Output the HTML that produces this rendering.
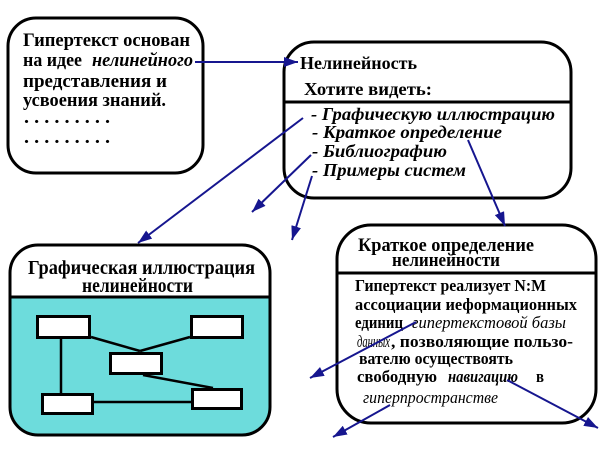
<!DOCTYPE html>
<html><head><meta charset="utf-8"><style>
html,body{margin:0;padding:0;background:#fff;}
svg{display:block;}
svg text{font-family:"Liberation Serif","Times New Roman",Times,serif !important;fill:#000;}
.b{font-weight:bold;}
.bi{font-weight:bold;font-style:italic;}
.i{font-style:italic;}
</style></head><body>
<svg width="615" height="455" viewBox="0 0 615 455" xmlns="http://www.w3.org/2000/svg" font-family="Liberation Serif, Times New Roman, serif">
<defs>
<marker id="ah" viewBox="0 0 14 10" refX="14" refY="5" markerWidth="14" markerHeight="10" markerUnits="userSpaceOnUse" orient="auto">
<path d="M0,0 L14,5 L0,10 z" fill="#16168f"/>
</marker>
<clipPath id="c3"><rect x="10" y="245" width="260" height="190" rx="28" ry="28"/></clipPath>
</defs>

<!-- Box 1 -->
<rect x="8" y="18" width="195" height="155" rx="28" ry="28" fill="#fff" stroke="#000" stroke-width="3"/>
<g font-family="Liberation Serif, serif">
<text class="b" x="23" y="46" font-size="19" textLength="167" lengthAdjust="spacingAndGlyphs">Гипертекст основан</text>
<text class="b" x="23" y="66" font-size="19" textLength="59" lengthAdjust="spacingAndGlyphs">на идее</text>
<text class="bi" x="92" y="66" font-size="19" textLength="101" lengthAdjust="spacingAndGlyphs">нелинейного</text>
<text class="b" x="23" y="87" font-size="19" textLength="144" lengthAdjust="spacingAndGlyphs">представления  и</text>
<text class="b" x="23" y="106" font-size="19" textLength="143" lengthAdjust="spacingAndGlyphs">усвоения знаний.</text>
<text class="b" x="24" y="123" font-size="19" textLength="86" lengthAdjust="spacingAndGlyphs">. . . . . . . . .</text>
<text class="b" x="24" y="143" font-size="19" textLength="86" lengthAdjust="spacingAndGlyphs">. . . . . . . . .</text>
</g>

<!-- Box 2 -->
<rect x="284" y="42" width="287" height="156" rx="30" ry="30" fill="#fff" stroke="#000" stroke-width="3"/>
<line x1="284" y1="102" x2="571" y2="102" stroke="#000" stroke-width="3"/>
<g font-family="Liberation Serif, serif">
<text class="b" x="300" y="69" font-size="18" textLength="117" lengthAdjust="spacingAndGlyphs">Нелинейность</text>
<text class="b" x="304" y="95" font-size="18" textLength="128" lengthAdjust="spacingAndGlyphs">Хотите видеть:</text>
<text class="bi" x="311" y="120" font-size="18" textLength="244" lengthAdjust="spacingAndGlyphs">- Графическую иллюстрацию</text>
<text class="bi" x="312" y="138" font-size="18" textLength="190" lengthAdjust="spacingAndGlyphs">- Краткое определение</text>
<text class="bi" x="312" y="157" font-size="18" textLength="135" lengthAdjust="spacingAndGlyphs">- Библиографию</text>
<text class="bi" x="312" y="176" font-size="18" textLength="154" lengthAdjust="spacingAndGlyphs">- Примеры систем</text>
</g>

<!-- Box 3 -->
<rect x="10" y="245" width="260" height="190" rx="28" ry="28" fill="#fff"/>
<rect x="0" y="297" width="280" height="150" fill="#6ddcdc" clip-path="url(#c3)"/>
<rect x="10" y="245" width="260" height="190" rx="28" ry="28" fill="none" stroke="#000" stroke-width="3"/>
<line x1="10" y1="297" x2="270" y2="297" stroke="#000" stroke-width="3"/>
<g font-family="Liberation Serif, serif">
<text class="b" x="28" y="274" font-size="20" textLength="227" lengthAdjust="spacingAndGlyphs">Графическая иллюстрация</text>
<text class="b" x="82" y="292" font-size="20" textLength="111" lengthAdjust="spacingAndGlyphs">нелинейности</text>
</g>
<g stroke="#000" stroke-width="2.5" fill="none">
<line x1="61" y1="338" x2="61" y2="394"/>
<line x1="91" y1="337" x2="140" y2="351"/>
<line x1="190" y1="337" x2="140" y2="351"/>
<line x1="143" y1="375" x2="213" y2="388"/>
<line x1="94" y1="402" x2="192" y2="402"/>
</g>
<g stroke="#000" stroke-width="3" fill="#fff">
<rect x="37.5" y="316.5" width="52" height="21"/>
<rect x="191.5" y="316.5" width="51" height="21"/>
<rect x="110.5" y="353.5" width="51" height="20"/>
<rect x="42.5" y="394.5" width="50" height="19"/>
<rect x="192.5" y="389.5" width="49" height="19"/>
</g>

<!-- Box 4 -->
<rect x="337" y="225" width="259" height="198" rx="34" ry="34" fill="#fff" stroke="#000" stroke-width="3"/>
<line x1="337" y1="273" x2="596" y2="273" stroke="#000" stroke-width="3"/>
<g font-family="Liberation Serif, serif">
<text class="b" x="358" y="251" font-size="19" textLength="176" lengthAdjust="spacingAndGlyphs">Краткое определение</text>
<text class="b" x="392" y="266" font-size="19" textLength="108" lengthAdjust="spacingAndGlyphs">нелинейности</text>
<text class="b" x="355" y="291" font-size="17" textLength="191" lengthAdjust="spacingAndGlyphs">Гипертекст реализует N:M</text>
<text class="b" x="355" y="310" font-size="17" textLength="222" lengthAdjust="spacingAndGlyphs">ассоциации иеформационных</text>
<text class="b" x="355" y="328" font-size="17" textLength="48" lengthAdjust="spacingAndGlyphs">единиц</text>
<text class="i" x="412" y="328" font-size="17" textLength="154" lengthAdjust="spacingAndGlyphs">гипертекстовой базы</text>
<text class="i" x="357" y="347" font-size="17" textLength="33" lengthAdjust="spacingAndGlyphs">данных</text>
<text class="b" x="391" y="347" font-size="17" textLength="182" lengthAdjust="spacingAndGlyphs">, позволяющие пользо-</text>
<text class="b" x="359" y="364" font-size="17" textLength="154" lengthAdjust="spacingAndGlyphs">вателю осуществоять</text>
<text class="b" x="357" y="382" font-size="17" textLength="80" lengthAdjust="spacingAndGlyphs">свободную</text>
<text class="bi" x="448" y="382" font-size="17" textLength="70" lengthAdjust="spacingAndGlyphs">навигацию</text>
<text class="b" x="536" y="382" font-size="17" textLength="8" lengthAdjust="spacingAndGlyphs">в</text>
<text class="i" x="363" y="403" font-size="17" textLength="135" lengthAdjust="spacingAndGlyphs">гиперпространстве</text>
</g>

<!-- Arrows -->
<g stroke="#16168f" stroke-width="2" fill="none" marker-end="url(#ah)">
<line x1="195" y1="62" x2="298" y2="62"/>
<line x1="303" y1="118" x2="138" y2="243"/>
<line x1="311" y1="155" x2="252" y2="212"/>
<line x1="312" y1="176" x2="292" y2="240"/>
<line x1="468" y1="140" x2="505" y2="226"/>
<line x1="416" y1="322" x2="310" y2="378"/>
<line x1="390" y1="405" x2="333" y2="437"/>
<line x1="507" y1="380" x2="598" y2="428"/>
</g>
</svg>
</body></html>
